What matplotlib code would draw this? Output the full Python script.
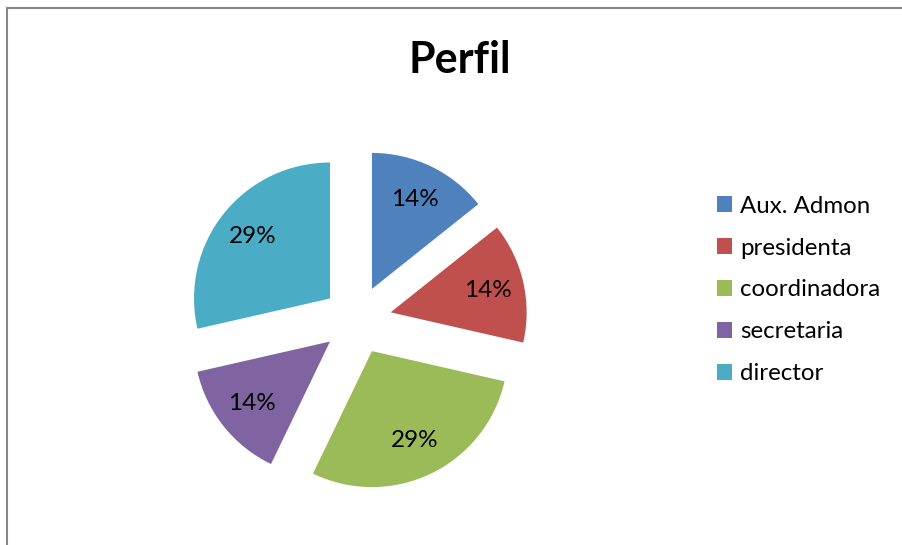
import matplotlib.pyplot as plt
from matplotlib.patches import Rectangle

# data
perfiles = ['Aux. Admon', 'presidenta', 'coordinadora', 'secretaria', 'director']
personas = [1, 1, 2, 1, 2]
colores = ['#4F81BD', '#C0504D', '#9BBB59', '#8064A2', '#4BACC6']

plt.rcParams['font.family'] = ['Lato', 'DejaVu Sans']

W, H = 902, 545
fig = plt.figure(figsize=(W / 100, H / 100), dpi=100)
ax = fig.add_axes([0, 0, 1, 1])
ax.set_xlim(0, W)
ax.set_ylim(0, H)
ax.set_aspect('equal')
ax.axis('off')

# chart area border (cut at right / bottom like the screenshot)
ax.add_patch(Rectangle((7, -20), W + 40, H - 8 + 20, fill=False,
                       edgecolor='#878787', linewidth=1.5))

# explode is in data units (pixels here)
wedges, texts, autotexts = ax.pie(
    personas, colors=colores, startangle=90, counterclock=False,
    explode=[34.5] * len(personas), radius=136, center=(357, H - 320),
    autopct='%1.0f%%', pctdistance=0.73,
    wedgeprops={'linewidth': 0},
    textprops={'fontsize': 17.5, 'color': 'black'})
ax.set_xlim(0, W)
ax.set_ylim(0, H)

fig.text(460 / W, (H - 73) / H, 'Perfil', ha='center', va='baseline',
         fontsize=31, fontweight='bold')

ax.legend(wedges, perfiles, loc='center left', frameon=False,
          bbox_to_anchor=(717 / W, (H - 290) / H), bbox_transform=fig.transFigure,
          borderaxespad=0, borderpad=0, fontsize=17.3,
          handlelength=0.63, handleheight=0.63, handletextpad=0.33,
          labelspacing=0.87)

fig.savefig('out.png', dpi=100)
